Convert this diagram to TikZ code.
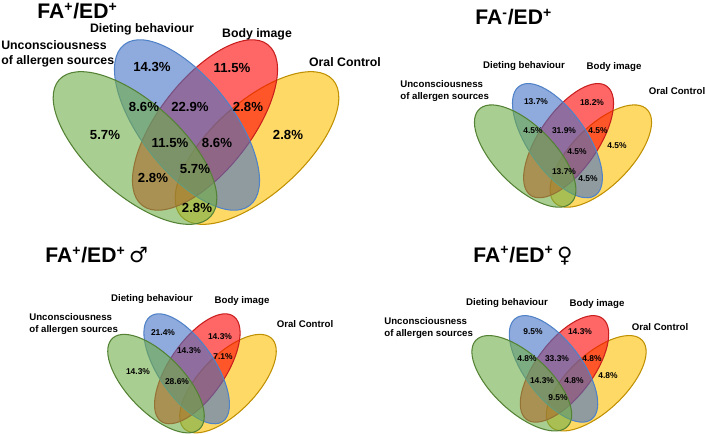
\documentclass[tikz,border=0pt]{standalone}
\usepackage{fontspec}
\setmainfont{Liberation Sans}
\newfontfamily\symbfont{DejaVu Sans}

\definecolor{allergfill}{RGB}{112,173,71}
\definecolor{allergedge}{RGB}{84,130,53}
\definecolor{dietfill}{RGB}{68,114,196}
\definecolor{dietedge}{RGB}{80,130,200}
\definecolor{bodyfill}{RGB}{255,0,0}
\definecolor{bodyedge}{RGB}{200,30,30}
\definecolor{oralfill}{RGB}{255,192,0}
\definecolor{oraledge}{RGB}{191,144,0}

% the four sets, drawn round the origin of the current scope
\newcommand{\fourellipses}{%
  \draw[oralset,shift={(61,18)},rotate=42] (0,0) ellipse [x radius=102, y radius=46];
  \draw[bodyset,shift={(9,-5)},rotate=52] (0,0) ellipse [x radius=102, y radius=46];
  \draw[dietset,shift={(-9,-5)},rotate=-52] (0,0) ellipse [x radius=102, y radius=46];
  \draw[allergset,shift={(-61,18)},rotate=-42] (0,0) ellipse [x radius=102, y radius=46];
}

\begin{document}
\begin{tikzpicture}[x=0.02cm,y=-0.02cm,
  allergset/.style={draw=allergedge,fill=allergfill,fill opacity=0.6,line width=0.6pt},
  dietset/.style={draw=dietedge,fill=dietfill,fill opacity=0.6,line width=0.6pt},
  bodyset/.style={draw=bodyedge,fill=bodyfill,fill opacity=0.6,line width=0.6pt},
  oralset/.style={draw=oraledge,fill=oralfill,fill opacity=0.6,line width=0.6pt},
  settitle/.style={anchor=west,inner sep=0pt,font=\bfseries\fontsize{12}{14}\selectfont},
  bigname/.style={inner sep=0pt,align=left,font=\bfseries\fontsize{7}{8.5}\selectfont},
  smallname/.style={inner sep=0pt,align=left,font=\bfseries\fontsize{5.5}{6.6}\selectfont},
  bigpct/.style={inner sep=0pt,font=\bfseries\fontsize{7.5}{9}\selectfont},
  smallpct/.style={inner sep=0pt,font=\bfseries\fontsize{4.8}{6}\selectfont}]
  \useasboundingbox (0,0) rectangle (705,433);

  % FA+/ED+
  \begin{scope}[shift={(196,130)}]
    \fourellipses
  \end{scope}
  \node[settitle] (title1) at (37,11) {FA\textsuperscript{+}/ED\textsuperscript{+}};
  \node[bigname] (diet1) at (142,29) {Dieting behaviour};
  \node[bigname] (body1) at (257,34) {Body image};
  \node[bigname,anchor=west] (allerg1) at (1,54) {Unconsciousness\\of allergen sources};
  \node[bigname] (oral1) at (345,62) {Oral Control};
  \foreach \x/\y/\t [count=\i] in {152/67/14.3, 232/68/11.5, 144/107/8.6, 190/107/22.9,
      248/107/2.8, 105/135/5.7, 170/143/11.5, 217/143/8.6, 288/135/2.8,
      195/169/5.7, 153/178/2.8, 197/208/2.8}
    \node[bigpct] (a\i) at (\x,\y) {\t\%};

  % FA-/ED+
  \begin{scope}[shift={(563,144)},xscale=0.62,yscale=0.67]
    \fourellipses
  \end{scope}
  \node[settitle] (title2) at (475,17) {FA\textsuperscript{-}/ED\textsuperscript{+}};
  \node[smallname] (diet2) at (524,66) {Dieting behaviour};
  \node[smallname] (body2) at (614,67) {Body image};
  \node[smallname,anchor=west] (allerg2) at (400,91) {Unconsciousness\\of allergen sources};
  \node[smallname] (oral2) at (677,91) {Oral Control};
  \foreach \x/\y/\t [count=\i] in {536/102/13.7, 592/103/18.2, 533/131/4.5, 564/131/31.9,
      598/131/4.5, 577/152/4.5, 617/146/4.5, 564/172/13.7, 588/179/4.5}
    \node[smallpct] (b\i) at (\x,\y) {\t\%};

  % FA+/ED+ male
  \begin{scope}[shift={(192,372)},xscale=0.59,yscale=0.645]
    \fourellipses
  \end{scope}
  \node[settitle] (title3) at (45,255) {FA\textsuperscript{+}/ED\textsuperscript{+}\,{\symbfont\mdseries ♂}};
  \node[smallname] (diet3) at (152,299) {Dieting behaviour};
  \node[smallname] (body3) at (242,301) {Body image};
  \node[smallname,anchor=west] (allerg3) at (29,324) {Unconsciousness\\of allergen sources};
  \node[smallname] (oral3) at (305,324) {Oral Control};
  \foreach \x/\y/\t [count=\i] in {163/333/21.4, 220/337/14.3, 189/351/14.3,
      223/357/7.1, 138/372/14.3, 177/382/28.6}
    \node[smallpct] (c\i) at (\x,\y) {\t\%};

  % FA+/ED+ female
  \begin{scope}[shift={(559,372)},xscale=0.61,yscale=0.625]
    \fourellipses
  \end{scope}
  \node[settitle] (title4) at (473,256) {FA\textsuperscript{+}/ED\textsuperscript{+}\,{\symbfont\mdseries ♀}};
  \node[smallname] (diet4) at (507,303) {Dieting behaviour};
  \node[smallname] (body4) at (597,304) {Body image};
  \node[smallname,anchor=west] (allerg4) at (384,328) {Unconsciousness\\of allergen sources};
  \node[smallname] (oral4) at (660,327) {Oral Control};
  \foreach \x/\y/\t [count=\i] in {533/332/9.5, 580/332/14.3, 527/359/4.8, 557/359/33.3,
      592/359/4.8, 608/376/4.8, 542/381/14.3, 574/381/4.8, 558/398/9.5}
    \node[smallpct] (d\i) at (\x,\y) {\t\%};
\end{tikzpicture}
\end{document}
